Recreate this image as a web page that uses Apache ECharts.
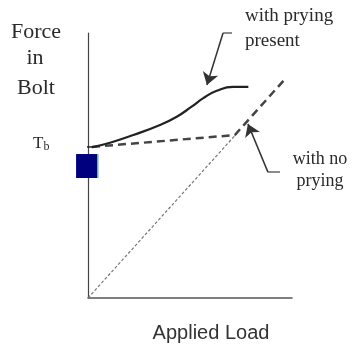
<!DOCTYPE html>
<html>
<head>
<meta charset="utf-8">
<script src="https://cdn.jsdelivr.net/npm/echarts@6/dist/echarts.min.js"></script>
<style>html,body{margin:0;padding:0;background:#fff;}#c{width:362px;height:350px;}</style>
</head>
<body>
<div id="c"></div>
<script>
// Values in chart units (0-100 on both axes)
var pryingX = [1.8, 10.8, 22.2, 35.3, 43.5, 50.8, 56.5, 63.1, 71.2, 78.6];
var pryingY = [56.9, 58.6, 61.5, 65.3, 68.4, 72.2, 75.4, 78.2, 79.7, 79.7];
var noPryingX = [2, 72, 97];
var noPryingY = [57, 61.5, 83];
var appliedX = [0, 74];
var appliedY = [0, 63];
var tbLevel = 57;
var tbX = [-9.8, 3.4];
var markerPoint = [-0.7, 49.8];
var arrow1X = [70.6, 66.2, 58.3];
var arrow1Y = [100, 100, 80.4];
var arrow2X = [94.1, 88.2, 78.4];
var arrow2Y = [47.5, 47.5, 65.7];
var labels = {
  yTitle: ['Force', 'in', 'Bolt'],
  xTitle: 'Applied Load',
  tb: 'T',
  tbSub: 'b',
  prying: ['with prying', 'present'],
  noPrying: ['with no', 'prying']
};

function zip(a, b) { return a.map(function (v, i) { return [v, b[i]]; }); }
function seg(xs, ys, i) { return {coords: [[xs[i], ys[i]], [xs[i + 1], ys[i + 1]]]}; }

var chart = echarts.init(document.getElementById('c'), null, {renderer: 'canvas'});
var serif = '"Liberation Serif", "DejaVu Serif", serif';
var txtColor = '#2a2a2a';
var option = {
  backgroundColor: '#ffffff',
  animation: false,
  grid: {left: 88, top: 33, width: 204, height: 265, containLabel: false},
  xAxis: {
    type: 'value', min: 0, max: 100,
    axisLine: {show: true, onZero: false, lineStyle: {color: '#555', width: 1.5}},
    axisTick: {show: false}, axisLabel: {show: false}, splitLine: {show: false}
  },
  yAxis: {
    type: 'value', min: 0, max: 100,
    axisLine: {show: true, onZero: false, lineStyle: {color: '#444', width: 1.2}},
    axisTick: {show: false}, axisLabel: {show: false}, splitLine: {show: false}
  },
  series: [
    {
      type: 'line', name: 'applied', data: zip(appliedX, appliedY), showSymbol: false, symbol: 'none',
      lineStyle: {color: '#777', width: 1.2, type: [3, 2]}, z: 2
    },
    {
      type: 'line', name: 'with no prying', data: zip(noPryingX, noPryingY), showSymbol: false, symbol: 'none',
      lineStyle: {color: '#444', width: 2.5, type: [8, 5]}, z: 3
    },
    {
      type: 'line', name: 'with prying present', data: zip(pryingX, pryingY), smooth: true, showSymbol: false, symbol: 'none',
      lineStyle: {color: '#222', width: 2.2}, z: 4
    },
    {
      type: 'line', name: 'Tb', data: zip(tbX, [tbLevel, tbLevel]), clip: false, showSymbol: false, symbol: 'none',
      lineStyle: {color: '#222', width: 1.5}, z: 4
    },
    {
      type: 'scatter', data: [markerPoint], clip: false, symbol: 'rect', symbolSize: [21, 24],
      itemStyle: {color: '#00007f', shadowColor: '#6ab0e8', shadowOffsetX: 1.5, shadowBlur: 0, opacity: 1}, z: 6
    },
    {
      type: 'lines', coordinateSystem: 'cartesian2d', clip: false,
      symbol: ['none', 'none'],
      lineStyle: {color: '#666', width: 1.5, opacity: 1},
      data: [seg(arrow1X, arrow1Y, 0), seg(arrow2X, arrow2Y, 0)], z: 5
    },
    {
      type: 'lines', coordinateSystem: 'cartesian2d', clip: false,
      symbol: ['none', 'arrow'], symbolSize: 12,
      lineStyle: {color: '#333', width: 1.5, opacity: 1},
      data: [seg(arrow1X, arrow1Y, 1), seg(arrow2X, arrow2Y, 1)], z: 5
    }
  ],
  graphic: [
    {type: 'text', x: 36, y: 32, style: {text: labels.yTitle[0], font: '22px ' + serif, fill: txtColor, align: 'center', verticalAlign: 'middle'}},
    {type: 'text', x: 35, y: 58, style: {text: labels.yTitle[1], font: '22px ' + serif, fill: txtColor, align: 'center', verticalAlign: 'middle'}},
    {type: 'text', x: 36, y: 88, style: {text: labels.yTitle[2], font: '22px ' + serif, fill: txtColor, align: 'center', verticalAlign: 'middle'}},
    {type: 'text', x: 33, y: 144, style: {
      text: '{t|' + labels.tb + '}{s|' + labels.tbSub + '}', align: 'left', verticalAlign: 'middle',
      rich: {t: {font: '17px ' + serif, fill: txtColor, color: txtColor},
             s: {font: '12px ' + serif, fill: txtColor, color: txtColor, padding: [6, 0, 0, 0]}}
    }},
    {type: 'text', x: 245, y: 16, style: {text: labels.prying[0], font: '19px ' + serif, fill: txtColor, align: 'left', verticalAlign: 'middle'}},
    {type: 'text', x: 245, y: 41, style: {text: labels.prying[1], font: '19px ' + serif, fill: txtColor, align: 'left', verticalAlign: 'middle'}},
    {type: 'text', x: 320, y: 159, style: {text: labels.noPrying[0], font: '18px ' + serif, fill: txtColor, align: 'center', verticalAlign: 'middle'}},
    {type: 'text', x: 320, y: 181, style: {text: labels.noPrying[1], font: '18px ' + serif, fill: txtColor, align: 'center', verticalAlign: 'middle'}},
    {type: 'text', x: 211, y: 333, style: {text: labels.xTitle, font: '20px "Liberation Sans", Arial, sans-serif', fill: '#333', align: 'center', verticalAlign: 'middle'}}
  ]
};
chart.setOption(option);
</script>
</body>
</html>
